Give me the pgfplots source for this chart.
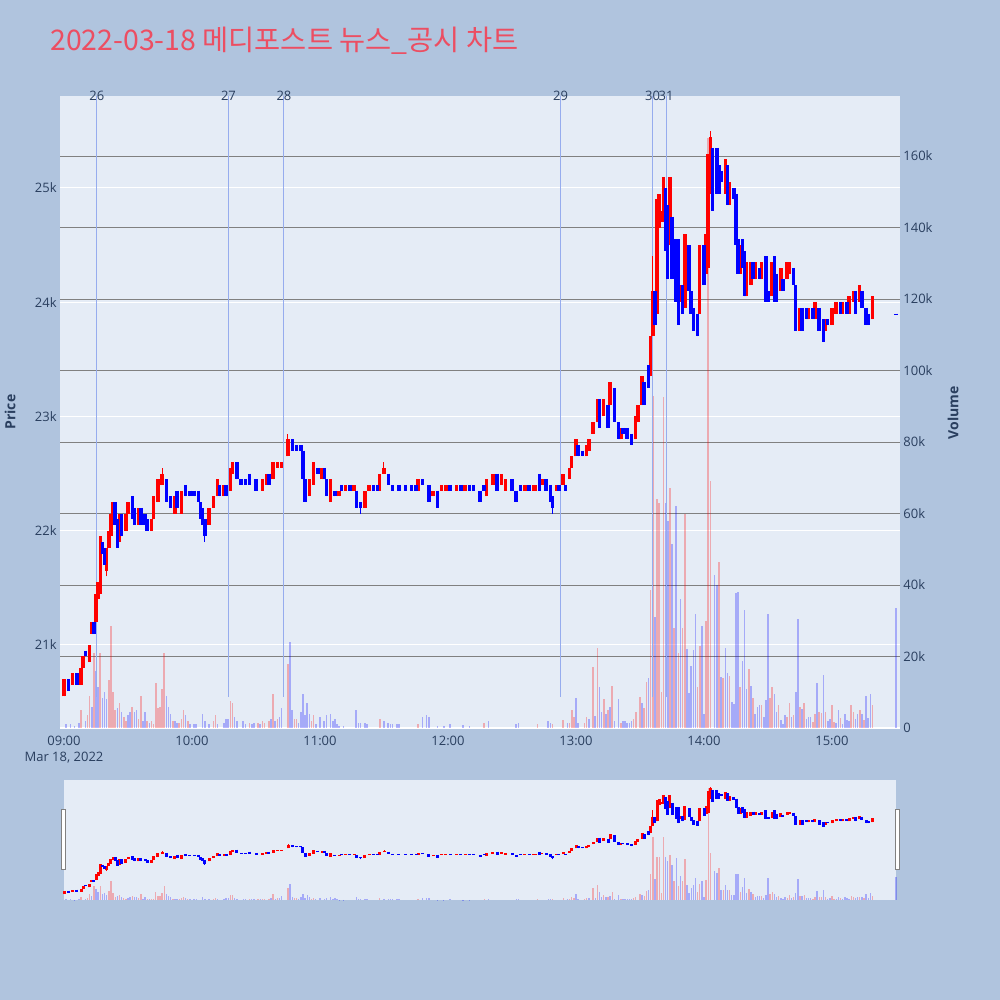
\documentclass[border=0pt]{standalone}
\usepackage{pgfplots}
\pgfplotsset{compat=1.18}
\usepackage{pgfplotstable}
\usepackage{fontspec}
\setmainfont{Open Sans}
\newfontfamily\krfont{Noto Sans CJK KR}
\definecolor{pagebg}{RGB}{176,196,222}
\definecolor{plotbg}{RGB}{229,236,246}
\definecolor{tickcol}{RGB}{42,63,95}
\definecolor{titlecol}{RGB}{236,78,98}
\definecolor{vgrid}{RGB}{128,128,128}
\definecolor{vline}{RGB}{150,172,238}

\pgfplotstableread{
t o h l c
0 20550 20700 20550 20700
4 20650 20750 20650 20750
8 20650 20800 20650 20800
9 20800 20900 20800 20900
12 20850 21000 20850 21000
13 21100 21200 21100 21200
15 21200 21450 21200 21450
16 21400 21550 21400 21550
17 21450 21950 21450 21950
20 21650 21850 21600 21850
21 21850 22000 21850 22000
22 21950 22150 21950 22150
23 22100 22250 22100 22250
26 21900 22150 21900 22150
29 22000 22150 22000 22150
30 22150 22250 22150 22250
35 22050 22200 22050 22200
41 22000 22100 22000 22100
42 22100 22300 22100 22300
44 22250 22450 22250 22450
46 22400 22550 22400 22500
52 22150 22300 22150 22300
55 22150 22350 22150 22350
68 22050 22200 22050 22200
70 22200 22300 22200 22300
72 22300 22450 22300 22450
75 22300 22400 22300 22400
78 22350 22550 22350 22550
79 22500 22600 22500 22600
93 22350 22450 22350 22450
95 22400 22500 22400 22500
98 22450 22600 22450 22600
100 22550 22600 22550 22600
102 22550 22600 22550 22600
105 22650 22850 22650 22800
115 22300 22450 22300 22450
117 22400 22600 22400 22600
121 22450 22550 22450 22550
125 22250 22450 22250 22450
129 22300 22350 22300 22350
132 22350 22400 22350 22400
136 22350 22400 22350 22400
141 22200 22350 22200 22350
143 22350 22400 22350 22400
148 22350 22500 22350 22500
150 22500 22600 22500 22550
166 22350 22450 22350 22450
173 22300 22350 22300 22350
177 22350 22400 22350 22400
179 22350 22400 22350 22400
184 22350 22400 22350 22400
188 22350 22400 22350 22400
198 22300 22450 22300 22450
201 22400 22500 22400 22500
205 22400 22500 22400 22500
207 22350 22450 22350 22450
216 22350 22400 22350 22400
220 22350 22400 22350 22400
221 22350 22400 22350 22400
224 22400 22450 22400 22450
231 22350 22400 22350 22400
234 22400 22500 22400 22500
237 22450 22550 22450 22550
238 22550 22650 22550 22650
240 22650 22800 22650 22800
245 22650 22750 22650 22750
246 22700 22800 22700 22800
248 22850 22950 22850 22950
250 22950 23150 22950 23150
253 23000 23150 23000 23150
256 23100 23300 23100 23300
261 22800 22900 22800 22900
268 22800 23000 22800 23000
269 22950 23100 22950 23100
271 23100 23350 23100 23350
275 23350 23700 23350 23700
276 23700 24400 23700 24100
278 23900 24900 23900 24900
279 24650 24950 24650 24950
280 24700 24800 24700 24800
281 24700 25100 24700 25100
284 24500 25100 24500 25100
289 24000 24150 24000 24150
291 23950 24600 23950 24600
298 23900 24500 23900 24500
301 24250 24600 24250 24600
302 24300 25300 24300 25300
303 24950 25500 24950 25450
310 24950 25250 24950 25250
312 24850 25050 24850 25050
317 24250 24500 24250 24500
320 24050 24350 24050 24350
322 24150 24350 24150 24350
324 24200 24350 24200 24350
327 24200 24350 24200 24350
332 24050 24350 24050 24350
336 24100 24300 24100 24300
339 24200 24350 24200 24350
340 24250 24350 24250 24350
345 23750 23950 23750 23950
349 23850 23950 23850 23950
352 23850 24000 23850 24000
357 23750 23850 23750 23850
360 23800 23950 23800 23950
362 23900 24000 23900 24000
365 23900 24000 23900 24000
368 23900 24050 23900 24050
370 24000 24100 24000 24100
373 24000 24150 24000 24150
379 23850 24050 23850 24050
}\upc

\pgfplotstableread{
t o h l c
2 20700 20700 20600 20600
6 20750 20750 20650 20650
10 20950 20950 20900 20900
14 21200 21200 21100 21100
18 21900 21900 21800 21800
19 21850 21850 21700 21700
24 22250 22250 22050 22050
25 22100 22100 21850 21850
27 22150 22150 21950 21950
32 22300 22300 22100 22100
33 22200 22200 22050 22050
36 22200 22200 22050 22050
38 22150 22150 22050 22050
39 22100 22100 22000 22000
48 22450 22450 22250 22250
50 22300 22300 22200 22200
53 22350 22350 22200 22200
57 22400 22400 22300 22300
59 22350 22350 22300 22300
61 22350 22350 22300 22300
63 22350 22350 22250 22250
64 22250 22250 22100 22100
65 22200 22200 22050 22050
66 22100 22100 21900 21950
73 22400 22400 22300 22300
76 22400 22400 22300 22300
81 22600 22600 22450 22450
83 22450 22450 22400 22400
85 22450 22450 22400 22400
87 22500 22500 22400 22400
90 22450 22450 22350 22350
96 22500 22500 22400 22400
107 22800 22800 22700 22700
109 22750 22750 22700 22700
111 22750 22750 22700 22700
112 22700 22700 22450 22450
113 22450 22450 22250 22250
119 22550 22550 22500 22500
122 22550 22550 22450 22450
123 22450 22450 22300 22300
127 22350 22350 22300 22300
130 22400 22400 22350 22350
134 22400 22400 22350 22350
137 22350 22350 22200 22200
139 22250 22250 22150 22200
145 22400 22400 22350 22350
147 22400 22400 22350 22350
152 22500 22500 22400 22400
154 22400 22400 22350 22350
157 22400 22400 22350 22350
160 22400 22400 22350 22350
163 22400 22400 22350 22350
165 22400 22400 22350 22350
168 22450 22450 22400 22400
171 22400 22400 22250 22250
175 22350 22350 22200 22200
181 22400 22400 22350 22350
186 22400 22400 22350 22350
190 22400 22400 22350 22350
192 22400 22400 22350 22350
195 22350 22350 22250 22250
197 22400 22400 22350 22350
203 22500 22500 22350 22350
210 22450 22450 22350 22350
212 22350 22350 22250 22250
214 22400 22400 22350 22350
218 22400 22400 22350 22350
223 22500 22500 22350 22350
226 22450 22450 22350 22350
228 22400 22400 22250 22250
229 22300 22300 22150 22200
232 22400 22400 22350 22350
235 22400 22400 22350 22350
241 22750 22750 22650 22650
243 22700 22700 22650 22650
251 23150 23150 22900 22900
255 23100 23100 22900 22900
258 23250 23250 22950 22950
260 22950 22950 22800 22800
262 22900 22900 22850 22850
264 22900 22900 22800 22800
266 22850 22850 22750 22750
272 23300 23300 23100 23100
274 23450 23450 23250 23250
277 24100 24100 23800 23800
282 25000 25000 24450 24450
283 24850 24850 24200 24200
285 24750 24750 24200 24200
287 24550 24550 24000 24000
288 24550 24550 23800 23800
290 24150 24150 23900 23900
293 24500 24500 24100 24100
294 24100 24100 23900 23900
295 23950 23950 23750 23750
297 23900 23900 23700 23700
300 24500 24500 24150 24150
304 25350 25350 24800 24800
306 25350 25350 24950 24950
307 25200 25200 24950 24950
308 25150 25150 25050 25050
311 25200 25200 24850 24850
314 25000 25000 24900 24900
315 24950 24950 24500 24500
316 24550 24550 24250 24250
318 24550 24550 24300 24300
319 24450 24450 24050 24050
323 24350 24350 24200 24200
326 24300 24300 24200 24200
329 24400 24400 24000 24000
330 24100 24100 24000 24000
333 24400 24400 24000 24000
334 24250 24250 24000 24000
337 24200 24200 24100 24100
342 24300 24300 24150 24150
343 24150 24150 23750 23750
346 23950 23950 23750 23750
348 23950 23950 23850 23850
351 23950 23950 23850 23850
354 23950 23950 23750 23750
356 23850 23850 23650 23650
358 23850 23850 23800 23800
364 24000 24000 23900 23900
367 24000 24000 23900 23900
371 24100 24100 23900 23900
374 24100 24100 23950 23950
376 23950 23950 23800 23800
377 23900 23900 23800 23800
390 23900 23900 23890 23890
}\dnc

\pgfplotstableread{
t v
8 5000
11 3500
12 9000
14 21000
17 21000
21 13500
22 28500
23 10000
24 5000
26 7000
28 3000
29 2000
32 6000
35 2500
36 9000
39 2000
41 2000
42 1000
43 12500
44 5500
45 6000
46 11000
47 21000
51 2000
54 1500
55 2500
56 5000
58 2000
70 2000
71 3500
78 7500
79 7000
87 1500
91 1500
93 2000
94 1500
96 2000
98 9500
100 2500
105 18000
108 2500
109 2500
116 2000
117 3500
148 2500
166 1000
197 1500
222 1000
229 1000
234 2300
237 1500
238 5000
239 3000
244 1500
245 3000
248 17000
250 22500
253 8000
255 5000
257 11700
261 1500
267 2500
268 4500
270 8700
272 5500
273 13000
275 38600
276 93000
278 64000
279 63000
280 10000
281 92600
284 67000
286 28000
288 21000
290 28000
291 60000
297 11500
298 23000
301 30000
302 165000
303 69000
307 46500
309 14000
312 14500
317 11600
321 16500
323 8500
327 6300
331 8500
332 11400
335 6300
339 3000
340 6900
342 3700
345 6000
347 6900
351 1600
352 4000
354 4400
355 4200
357 4400
360 6300
361 1600
364 2800
369 6300
370 4400
373 5100
375 2300
379 6300
}\vred

\pgfplotstableread{
t v
1 1000
3 1000
5 500
7 1500
10 2000
13 6000
15 16000
16 11500
18 8500
19 10000
20 8000
25 5500
27 4500
30 3500
31 4500
33 4500
34 5000
37 2000
38 4500
40 1500
48 9000
49 6000
50 4000
52 2000
53 1500
57 3500
59 1000
61 1000
62 1000
65 4000
66 2000
68 1000
72 1000
75 1500
76 2500
77 2500
80 3000
81 2000
84 2000
85 1000
88 1000
89 1500
92 1000
97 2500
99 2000
101 3000
102 5500
106 24000
107 5000
110 1500
111 4500
112 9500
113 3500
114 7000
115 4000
118 1000
120 3000
122 2000
123 3500
125 4000
126 2000
127 2500
128 1000
129 500
131 500
137 5000
138 1500
139 1500
141 1500
142 1000
150 2000
152 1500
153 1000
154 1000
156 1000
157 1000
168 3000
170 3500
171 3000
175 500
178 500
181 1000
187 700
190 500
199 2000
212 1000
213 1500
227 2000
228 1500
236 1500
240 8500
241 1500
246 2500
249 3300
251 11500
252 4500
254 4000
256 6000
258 2000
260 8000
262 2000
263 2000
264 1500
265 1500
266 2000
271 7000
274 14000
277 31000
282 63000
283 58000
285 51500
287 62000
289 36000
292 22000
293 9800
294 17400
295 21800
296 32000
299 28500
300 4000
305 42800
306 40000
308 14300
310 22400
311 15400
313 7300
314 6800
315 37800
316 38000
318 18800
319 33000
320 11000
322 11700
324 4000
325 5800
326 6300
328 3200
329 7900
330 32000
333 9500
334 4500
336 2300
337 1200
338 3700
341 3200
343 10000
344 30500
346 5300
348 2600
349 3000
350 3000
353 12600
356 14900
358 2000
359 2500
362 1400
363 4900
365 1200
366 4000
367 2300
368 1900
371 2500
372 3900
374 3900
376 9000
377 2800
378 9600
390 33600
}\vblue

\tikzset{tickfont/.style={font=\fontsize{6.5}{8}\selectfont, text=tickcol}}
\pgfplotsset{
  mainax/.style={scale only axis, anchor=south west, at={(30pt,136pt)}, width=420pt, height=316pt,
    xmin=-1.875, xmax=391.9, axis line style={draw=none}, tick style={draw=none}, major tick length=0pt,
    scaled y ticks=false},
  pricey/.style={ymin=20273, ymax=25805},
  voly/.style={ymin=0, ymax=176800},
  slax/.style={scale only axis, anchor=south west, at={(32pt,50pt)}, width=416pt, height=60pt,
    xmin=0, xmax=390, hide axis, clip=false},
}

\begin{document}
\begin{tikzpicture}
\useasboundingbox (0pt,0pt) rectangle (500pt,500pt);
\fill[pagebg] (-1pt,-1pt) rectangle (501pt,501pt);
\node[anchor=base west, inner sep=0pt, text=titlecol, font=\krfont\fontsize{14.2}{17}\selectfont] at (25pt,474.5pt) {2022-03-18 메디포스트 뉴스\_공시 차트};

% price background axis
\begin{axis}[mainax, pricey, axis background/.style={fill=plotbg},
  ytick={21000,22000,23000,24000,25000}, yticklabels={21k,22k,23k,24k,25k},
  ymajorgrids, y grid style={white, line width=0.5pt},
  yticklabel style={tickfont, anchor=east, inner sep=0pt, xshift=-1.5pt},
  xtick={0,60,120,180,240,300,360},
  xticklabels={{09:00\\Mar 18, 2022},10:00,11:00,12:00,13:00,14:00,15:00},
  xticklabel style={tickfont, align=center, anchor=north, inner sep=0pt, yshift=-4pt}]
\addplot[draw=none, forget plot] coordinates {(0,21000)};
\end{axis}

% volume axis
\begin{axis}[mainax, voly,
  ytick={20000,40000,60000,80000,100000,120000,140000,160000},
  yticklabels={20k,40k,60k,80k,100k,120k,140k,160k},
  extra y ticks={0}, extra y tick labels={0},
  extra y tick style={y grid style={white, line width=1pt}},
  ymajorgrids, y grid style={vgrid, line width=0.5pt},
  yticklabel pos=right,
  yticklabel style={tickfont, anchor=west, inner sep=0pt, xshift=1.5pt},
  xtick=\empty]
\addplot[ycomb, red, draw opacity=0.28, line width=0.8pt] table[x=t,y=v]{\vred};
\addplot[ycomb, blue, draw opacity=0.28, line width=0.8pt] table[x=t,y=v]{\vblue};
\end{axis}

% candles and news lines
\begin{axis}[mainax, pricey, hide axis, clip=false]
\addplot[vline, line width=0.5pt] coordinates {(15.4,20545) (15.4,25805)};
\addplot[vline, line width=0.5pt] coordinates {(77.1,20545) (77.1,25805)};
\addplot[vline, line width=0.5pt] coordinates {(103.1,20545) (103.1,25805)};
\addplot[vline, line width=0.5pt] coordinates {(232.8,20545) (232.8,25805)};
\addplot[vline, line width=0.5pt] coordinates {(275.9,20545) (275.9,25805)};
\addplot[vline, line width=0.5pt] coordinates {(282.2,20545) (282.2,25805)};
\addplot[red, line width=0.5pt, mark=none, quiver={u=0,v=\thisrow{h}-\thisrow{l}}] table[x=t,y=l]{\upc};
\addplot[red, line width=1.75pt, mark=none, quiver={u=0,v=\thisrow{c}-\thisrow{o}}] table[x=t,y=o]{\upc};
\addplot[blue, line width=0.5pt, mark=none, quiver={u=0,v=\thisrow{h}-\thisrow{l}}] table[x=t,y=l]{\dnc};
\addplot[blue, line width=1.75pt, mark=none, quiver={u=0,v=\thisrow{c}-\thisrow{o}}] table[x=t,y=o]{\dnc};
\node[tickfont, inner sep=0pt] at (axis cs:15.4,25805) {26};
\node[tickfont, inner sep=0pt] at (axis cs:77.1,25805) {27};
\node[tickfont, inner sep=0pt] at (axis cs:103.1,25805) {28};
\node[tickfont, inner sep=0pt] at (axis cs:232.8,25805) {29};
\node[tickfont, inner sep=0pt] at (axis cs:275.9,25805) {30};
\node[tickfont, inner sep=0pt] at (axis cs:282.2,25805) {31};
\end{axis}

% range slider
\fill[plotbg] (32pt,50pt) rectangle (448pt,110pt);
\begin{axis}[slax, voly]
\addplot[ycomb, red, draw opacity=0.28, line width=0.7pt] table[x=t,y=v]{\vred};
\addplot[ycomb, blue, draw opacity=0.28, line width=0.7pt] table[x=t,y=v]{\vblue};
\end{axis}
\begin{axis}[slax, pricey]
\addplot[red, line width=0.4pt, mark=none, quiver={u=0,v=\thisrow{h}-\thisrow{l}}] table[x=t,y=l]{\upc};
\addplot[red, line width=1.5pt, mark=none, quiver={u=0,v=\thisrow{c}-\thisrow{o}}] table[x=t,y=o]{\upc};
\addplot[blue, line width=0.4pt, mark=none, quiver={u=0,v=\thisrow{h}-\thisrow{l}}] table[x=t,y=l]{\dnc};
\addplot[blue, line width=1.5pt, mark=none, quiver={u=0,v=\thisrow{c}-\thisrow{o}}] table[x=t,y=o]{\dnc};
\end{axis}
\draw[gray, fill=white, line width=0.5pt] (30.5pt,65pt) rectangle (32.5pt,95pt);
\draw[gray, fill=white, line width=0.5pt] (447.5pt,65pt) rectangle (449.5pt,95pt);

\node[rotate=90, text=tickcol, font=\bfseries\fontsize{7}{8}\selectfont] at (5pt,294pt) {Price};
\node[rotate=90, text=tickcol, font=\bfseries\fontsize{7}{8}\selectfont] at (476.5pt,293.5pt) {Volume};
\end{tikzpicture}
\end{document}
